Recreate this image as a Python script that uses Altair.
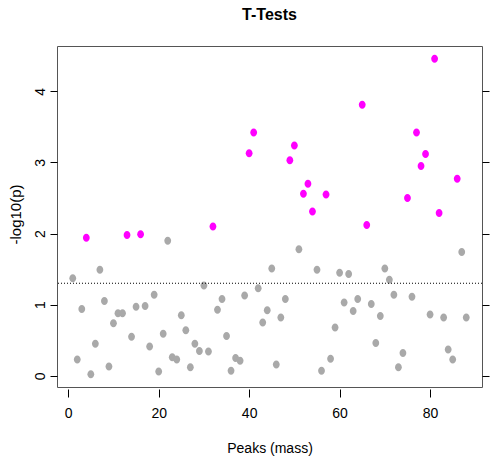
import altair as alt
import pandas as pd

# ---- data ----
peaks = list(range(1, 89))
neglog_p = [
    1.37, 0.23, 0.94, 1.94, 0.02, 0.45, 1.49, 1.05, 0.13, 0.74,
    0.88, 0.88, 1.98, 0.55, 0.97, 1.99, 0.98, 0.41, 1.14, 0.06,
    0.59, 1.90, 0.26, 0.23, 0.85, 0.64, 0.12, 0.45, 0.35, 1.27,
    0.34, 2.10, 0.93, 1.08, 0.56, 0.07, 0.25, 0.21, 1.13, 3.13,
    3.42, 1.23, 0.75, 0.92, 1.51, 0.16, 0.82, 1.08, 3.03, 3.24,
    1.78, 2.56, 2.70, 2.31, 1.49, 0.07, 2.55, 0.24, 0.68, 1.45,
    1.03, 1.43, 0.91, 1.08, 3.81, 2.12, 1.01, 0.46, 0.84, 1.51,
    1.35, 1.14, 0.12, 0.32, 2.50, 1.11, 3.42, 2.95, 3.12, 0.86,
    4.46, 2.29, 0.82, 0.37, 0.23, 2.77, 1.74, 0.82,
]
significant_peaks = [4, 13, 16, 32, 40, 41, 49, 50, 52, 53, 54, 57,
                     65, 66, 75, 77, 78, 79, 81, 82, 86]
x_ticks = [0, 20, 40, 60, 80]
y_ticks = [0, 1, 2, 3, 4]
threshold = [1.30103]  # -log10(0.05)

status = ["sig" if p in significant_peaks else "ns" for p in peaks]
df = pd.DataFrame({"peak": peaks, "score": neglog_p, "status": status})
thr_df = pd.DataFrame({"thr": threshold})

NARROW = "Liberation Sans Narrow, Arial Narrow, Liberation Sans, Arial, sans-serif"
REG = "Liberation Sans, Arial, sans-serif"

xscale = alt.Scale(domain=[-2.48, 91.48], nice=False, zero=False)
yscale = alt.Scale(domain=[-0.158, 4.638], nice=False, zero=False)

ellipse = "M -0.85 0 A 0.85 1 0 1 1 0.85 0 A 0.85 1 0 1 1 -0.85 0 Z"

points = alt.Chart(df).mark_point(
    shape=ellipse, filled=True, size=64, opacity=1, strokeWidth=0
).encode(
    x=alt.X(
        "peak:Q", scale=xscale,
        axis=alt.Axis(
            values=x_ticks, orient="bottom", domain=False, grid=False,
            tickColor="black", tickSize=8, offset=2, labelFlush=False,
            labelFont=NARROW, labelFontSize=14, labelColor="black", labelPadding=9,
            title="Peaks (mass)", titleFont=NARROW, titleFontSize=14,
            titleFontWeight="normal", titleColor="black",
            titleY=63, titleBaseline="alphabetic",
        ),
    ),
    y=alt.Y(
        "score:Q", scale=yscale,
        axis=alt.Axis(
            values=y_ticks, orient="left", domain=False, grid=False,
            tickColor="black", tickSize=7, labelFlush=False,
            labelAngle=270, labelAlign="center", labelBaseline="middle",
            labelPadding=10, labelFont=REG, labelFontSize=14, labelColor="black",
            title="-log10(p)", titleFont=REG, titleFontSize=15,
            titleFontWeight="normal", titleColor="black",
            titleAngle=270, titleX=-42, titleY=168,
            titleAlign="center", titleBaseline="middle",
        ),
    ),
    color=alt.Color(
        "status:N",
        scale=alt.Scale(domain=["sig", "ns"], range=["#ff00ff", "#a9a9a9"]),
        legend=None,
    ),
)

rule = alt.Chart(thr_df).mark_rule(
    color="black", strokeDash=[1, 2], strokeWidth=1
).encode(
    y=alt.Y(
        "thr:Q", scale=yscale,
        axis=alt.Axis(
            values=y_ticks, orient="right", domain=False, grid=False,
            labels=False, tickColor="black", tickSize=7, title=None,
        ),
    )
)

chart = alt.layer(points, rule).resolve_axis(y="independent").properties(
    width=425,
    height=341,
    padding={"left": 57, "top": 46, "right": 14, "bottom": 76},
    autosize=alt.AutoSizeParams(type="none"),
    title=alt.Title(
        "T-Tests", font=NARROW, fontSize=16, fontWeight="bold",
        anchor="middle", frame="group", baseline="alphabetic",
        offset=10, color="black",
    ),
).configure_view(stroke="#555", strokeWidth=1)

chart.save("out.html", embed_options={"renderer": "svg", "actions": False})
